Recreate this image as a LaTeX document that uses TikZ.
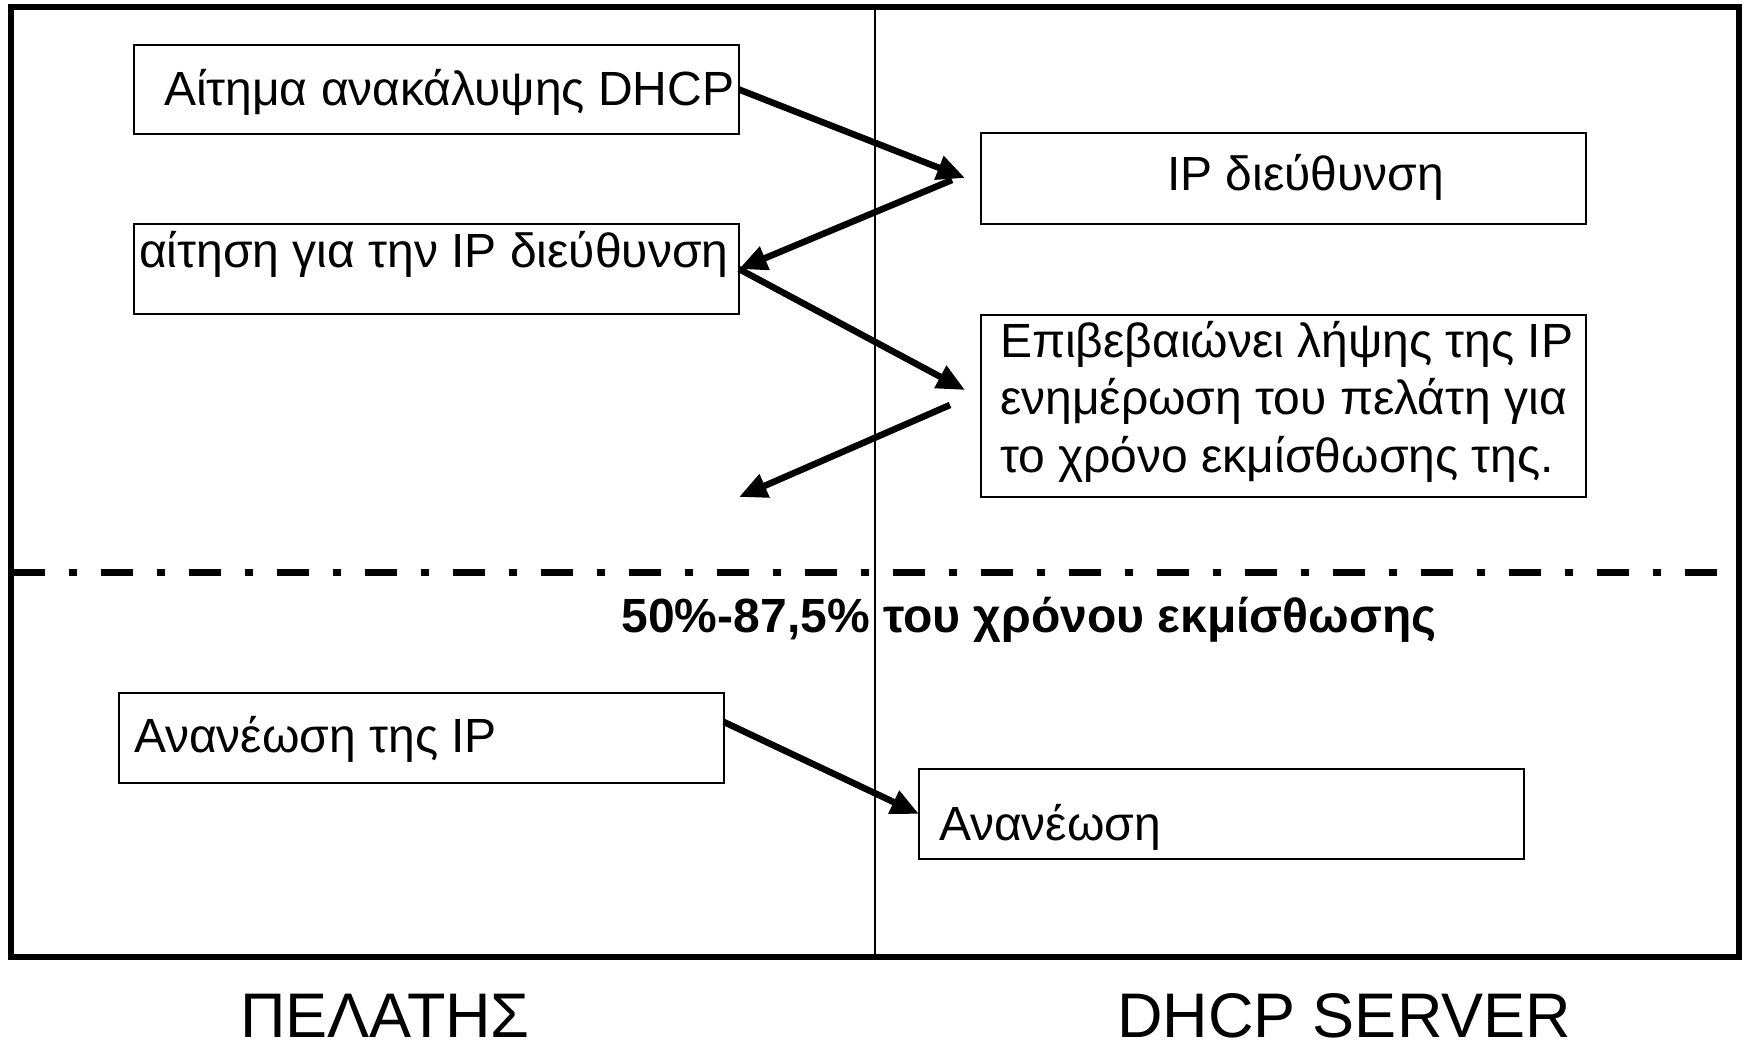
\documentclass[tikz,border=0pt]{standalone}
\usepackage{fontspec}
\setmainfont{Liberation Sans}
\usetikzlibrary{arrows.meta}
\begin{document}
\begin{tikzpicture}[x=1pt,y=-1pt,
  box/.style={draw, line width=2pt, minimum width=605pt, inner sep=0pt, outer sep=0pt, anchor=north west},
  txt/.style={anchor=base west, inner sep=0pt, outer sep=0pt, font=\fontsize{48}{57.5}\selectfont},
  lbl/.style={anchor=base, inner sep=0pt, font=\fontsize{63}{70}\selectfont},
  arr/.style={line width=6.5pt, -{Triangle[length=28pt,width=24pt]}},
]
\useasboundingbox (0,0) rectangle (1747,1043);
% frame and separators
\node[draw, line width=6pt, minimum width=1728pt, minimum height=950pt, inner sep=0pt, outer sep=0pt, anchor=north west] (frame) at (11,7) {};
\draw[line width=2.5pt] (875,7) -- (875,957);
\draw[line width=7pt, dash pattern=on 32pt off 24pt on 8pt off 24pt] (13,572.5) -- (1736,572.5);
% boxes
\node[box, minimum height=89pt] (b1) at (134,45) {};
\node[box, minimum height=90pt] (b2) at (134,224) {};
\node[box, minimum height=91pt] (b3) at (981,133) {};
\node[box, minimum height=182pt] (b4) at (981,315) {};
\node[box, minimum height=90pt] (b5) at (119,693) {};
\node[box, minimum height=90pt] (b6) at (919,769) {};
% texts
\node[txt] (t1) at (164,106) {Αίτημα ανακάλυψης DHCP};
\node[txt] (t2) at (139,267) {αίτηση για την IP διεύθυνση};
\node[txt] (t3) at (1167,190) {IP διεύθυνση};
\node[txt, align=left] (t4) at (1000,472) {Επιβεβαιώνει λήψης της IP\\ενημέρωση του πελάτη για\\το χρόνο εκμίσθωσης της.};
\node[txt] (t5) at (134,752) {Ανανέωση της IP};
\node[txt] (t6) at (939,840) {Ανανέωση};
\node[anchor=base, inner sep=0pt, font=\fontsize{48}{56}\selectfont\bfseries] (lease) at (1029,632) {50\%-87,5\% του χρόνου εκμίσθωσης};
\node[lbl] (client) at (385,1037) {ΠΕΛΑΤΗΣ};
\node[lbl] (server) at (1344,1037) {DHCP SERVER};
% arrows
\coordinate (e1) at (965,178);
\coordinate (s2) at (952,180);
\coordinate (e3) at (965,390);
\coordinate (s4) at (950,405);
\coordinate (e4) at (739,497);
\coordinate (s5) at (724,722);
\draw[arr] (b1.east) -- (e1);
\draw[arr] (s2) -- (b2.east);
\draw[arr] (b2.east) -- (e3);
\draw[arr] (s4) -- (e4);
\draw[arr] (s5) -- (b6.west);
\end{tikzpicture}
\end{document}
